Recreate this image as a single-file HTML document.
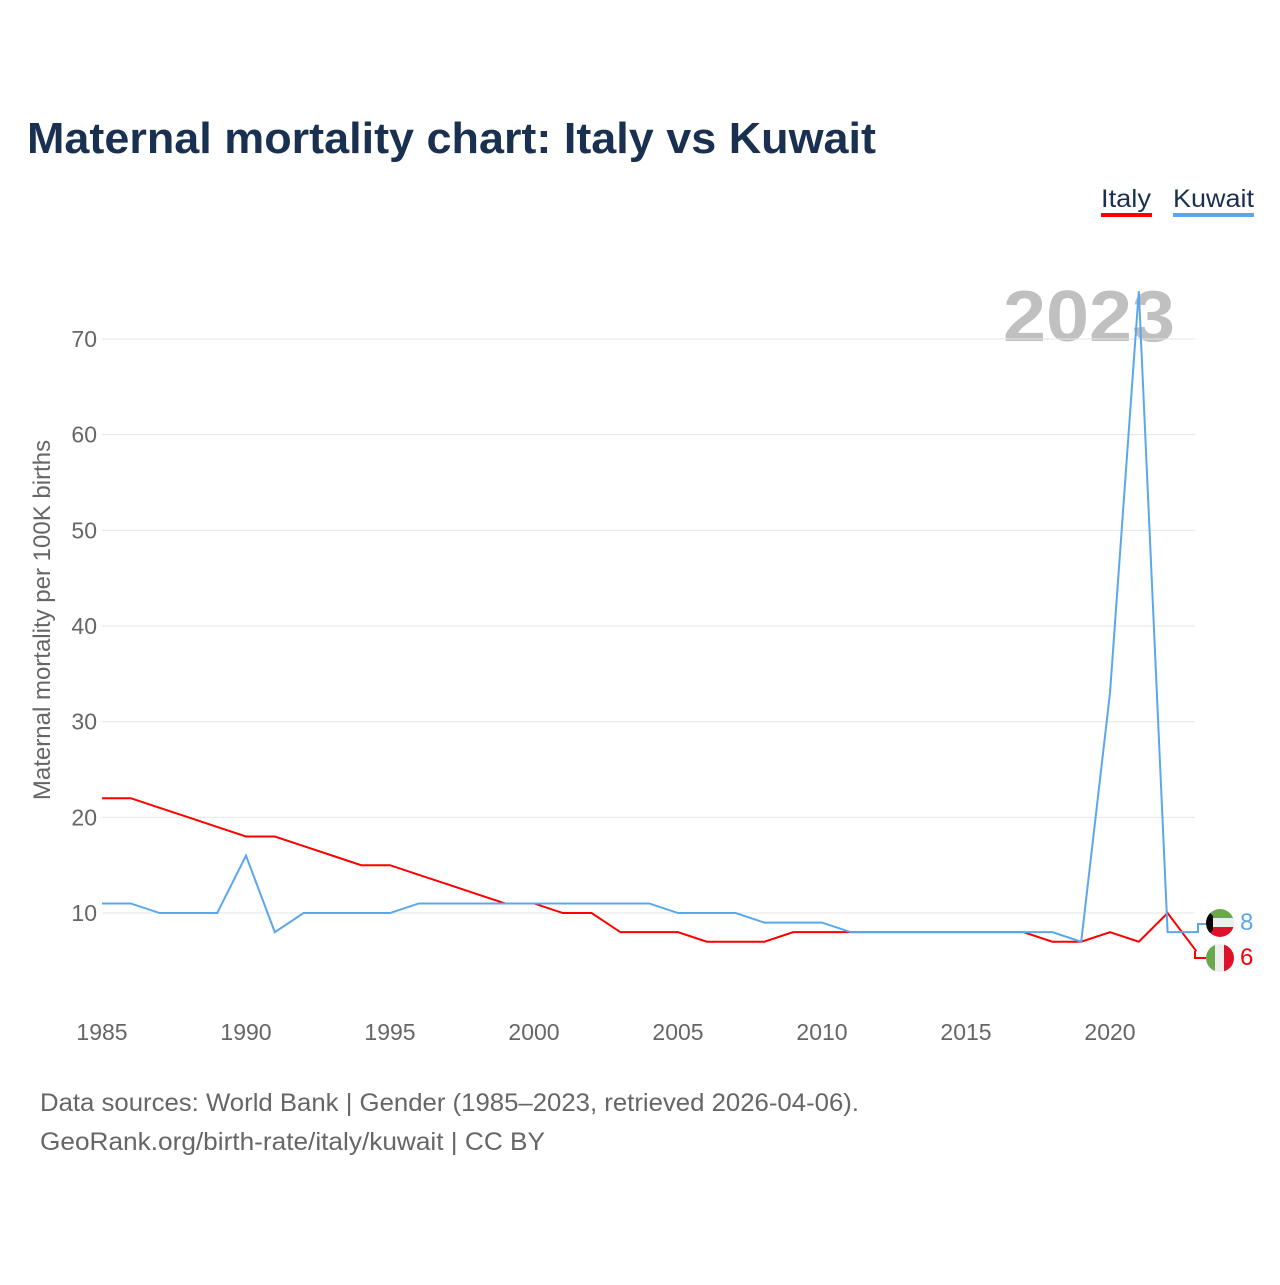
<!DOCTYPE html>
<html><head><meta charset="utf-8"><style>
body{margin:0;background:#fff;font-family:"Liberation Sans",sans-serif}
</style></head><body>
<svg width="1280" height="1280" xmlns="http://www.w3.org/2000/svg" font-family="Liberation Sans, sans-serif">
<text x="27" y="153" font-size="44" font-weight="bold" fill="#1a3050" textLength="849" lengthAdjust="spacingAndGlyphs">Maternal mortality chart: Italy vs Kuwait</text>
<g><text x="1101" y="207" font-size="25" fill="#1a3050" textLength="50" lengthAdjust="spacingAndGlyphs">Italy</text><rect x="1101" y="213" width="51" height="4" fill="#ff0000"/></g>
<g><text x="1173" y="207" font-size="25" fill="#1a3050" textLength="81" lengthAdjust="spacingAndGlyphs">Kuwait</text><rect x="1173" y="213" width="81" height="4" fill="#5ba7ec"/></g>
<text x="1003" y="341" font-size="72" font-weight="bold" fill="#c0c0c0" textLength="172" lengthAdjust="spacingAndGlyphs">2023</text>
<g id="grid"></g><g id="xt"></g>
<text transform="translate(50,620) rotate(-90)" font-size="24" fill="#666" text-anchor="middle">Maternal mortality per 100K births</text>
<g id="lines"></g>
<path d="M1195,932 H1198 V924 H1206" fill="none" stroke="#5ba7ec" stroke-width="2"/>
<path d="M1195,951 V958 H1206" fill="none" stroke="#ff0000" stroke-width="2"/>
<g>
<clipPath id="ck"><circle cx="1220" cy="923" r="14"/></clipPath>
<g clip-path="url(#ck)"><rect x="1206" y="909" width="28" height="10" fill="#6aa84f"/><rect x="1206" y="918" width="28" height="10" fill="#eee"/><rect x="1206" y="927" width="28" height="10" fill="#e0102a"/><path d="M1206,909 L1213,916 V930 L1206,937Z" fill="#000"/></g></g>
<g>
<clipPath id="ci"><circle cx="1220" cy="958" r="14"/></clipPath>
<g clip-path="url(#ci)"><rect x="1206" y="944" width="10" height="28" fill="#6aa84f"/><rect x="1215" y="944" width="10" height="28" fill="#eee"/><rect x="1224" y="944" width="10" height="28" fill="#e0102a"/></g></g>
<text x="1240" y="930" font-size="24" fill="#5ba7ec">8</text>
<text x="1240" y="965" font-size="24" fill="#ff0000">6</text>
<text x="40" y="1111" font-size="25" fill="#666" textLength="819" lengthAdjust="spacingAndGlyphs">Data sources: World Bank | Gender (1985–2023, retrieved 2026-04-06).</text>
<text x="40" y="1150" font-size="25" fill="#666" textLength="505" lengthAdjust="spacingAndGlyphs">GeoRank.org/birth-rate/italy/kuwait | CC BY</text>
</svg>
<script>
const years=[1985,1986,1987,1988,1989,1990,1991,1992,1993,1994,1995,1996,1997,1998,1999,2000,2001,2002,2003,2004,2005,2006,2007,2008,2009,2010,2011,2012,2013,2014,2015,2016,2017,2018,2019,2020,2021,2022,2023];
const italy=[22,22,21,20,19,18,18,17,16,15,15,14,13,12,11,11,10,10,8,8,8,7,7,7,8,8,8,8,8,8,8,8,8,7,7,8,7,10,6];
const kuwait=[11,11,10,10,10,16,8,10,10,10,10,11,11,11,11,11,11,11,11,11,10,10,10,9,9,9,8,8,8,8,8,8,8,8,7,33,75,8,8];
const yTicks=[10,20,30,40,50,60,70];
const xTicks=[1985,1990,1995,2000,2005,2010,2015,2020];
const NS="http://www.w3.org/2000/svg";
const xs=y=>102+(y-1985)*28.8;
const ys=v=>1008.7-v*9.567;
const grid=document.getElementById('grid'),xt=document.getElementById('xt'),lines=document.getElementById('lines');
yTicks.forEach(t=>{
 const l=document.createElementNS(NS,'line');
 
 
 l.setAttribute('x1',102);l.setAttribute('x2',1195);l.setAttribute('y1',ys(t));l.setAttribute('y2',ys(t));
 l.setAttribute('stroke','#e6e6e6');l.setAttribute('stroke-width','1');grid.appendChild(l);
 const tx=document.createElementNS(NS,'text');
 
 
 tx.setAttribute('x',97);tx.setAttribute('y',ys(t)+8);tx.setAttribute('text-anchor','end');
 tx.setAttribute('font-size','23');tx.setAttribute('fill','#666');tx.textContent=t;grid.appendChild(tx);
});
xTicks.forEach(t=>{
 const tx=document.createElementNS(NS,'text');
 
 
 tx.setAttribute('x',xs(t));tx.setAttribute('y',1040);tx.setAttribute('text-anchor','middle');
 tx.setAttribute('font-size','23');tx.setAttribute('fill','#666');tx.textContent=t;xt.appendChild(tx);
});
function draw(arr,color,name){
 const p=document.createElementNS(NS,'path');
 
 
 p.setAttribute('d',arr.map((v,i)=>(i?'L':'M')+xs(years[i])+','+ys(v)).join(' '));
 p.setAttribute('fill','none');p.setAttribute('stroke',color);p.setAttribute('stroke-width','2');
 lines.appendChild(p);
}
draw(italy,'#ff0000','italy-line');
draw(kuwait,'#5ba7ec','kuwait-line');
</script>
</body></html>
